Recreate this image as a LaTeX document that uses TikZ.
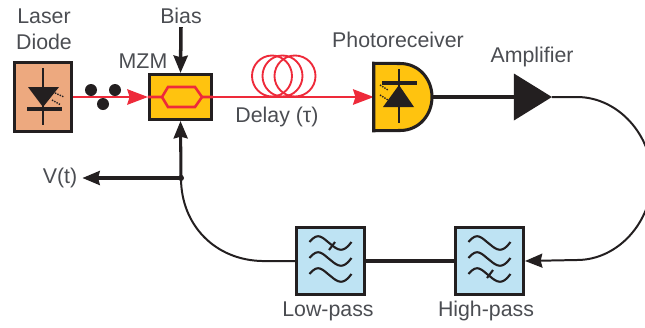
\documentclass[tikz,border=0pt]{standalone}
\usepackage{fontspec}
\setmainfont{Liberation Sans}
\usetikzlibrary{arrows.meta,shapes.geometric}
\definecolor{lasercol}{HTML}{EDA97F}
\definecolor{mzmcol}{HTML}{FFC30F}
\definecolor{filtercol}{HTML}{BEE3F3}
\definecolor{beamcol}{HTML}{EE2A3A}
\definecolor{inkcol}{HTML}{231F20}
\definecolor{lblcol}{HTML}{4B4D52}
\begin{document}
\begin{tikzpicture}[
    x=0.03cm, y=-0.03cm,
    every node/.style={font=\fontsize{18.2}{22}\selectfont, text=lblcol},
    lbl/.style={inner sep=0pt, align=center},
    block/.style={draw=inkcol, line width=2.6pt, inner sep=0pt},
    beam/.style={beamcol, line width=2.2pt},
    beamtip/.style={-{Stealth[length=0.62cm, width=0.46cm, inset=0.07cm]}},
    sig/.style={inkcol, line width=2.6pt},
    fb/.style={inkcol, line width=1.7pt},
    sigtip/.style={-{Stealth[length=0.52cm, width=0.42cm, inset=0.05cm]}},
    sym/.style={inkcol, line width=2pt},
    ray/.style={inkcol, line width=1.2pt, densely dotted},
    wave/.style={inkcol, line width=1.8pt},
    filterwaves/.pic={
        \foreach \y in {-17,-1,15}
            \draw[wave] (-21,\y-2) .. controls (-12,\y-13) and (-8,\y-6) .. (0,\y)
                .. controls (8,\y+7) and (13,\y+9) .. (21,\y-2);
    },
]
\useasboundingbox (0,0) rectangle (645,327);

% ── Textos ──
\node[lbl] (lasertxt) at (44,29) {Laser\\Diode};
\node[lbl] (biastxt) at (181,16) {Bias};
\node[lbl] (mzmtxt) at (143,61) {MZM};
\node[lbl] (delaytxt) at (277,117) {Delay (τ)};
\node[lbl] (prtxt) at (398,40) {Photoreceiver};
\node[lbl] (amptxt) at (532,57) {Amplifier};
\node[lbl] (vtxt) at (60,178) {V(t)};
\node[lbl] (lowtxt) at (328,311) {Low-pass};
\node[lbl] (hightxt) at (486,311) {High-pass};

% ── Bloques ──
\node[block, fill=lasercol, minimum width=1.71cm, minimum height=2.07cm] (laser) at (43,97) {};
\node[block, fill=mzmcol, minimum width=1.86cm, minimum height=1.35cm] (mzm) at (180.5,97) {};
\node[inner sep=0pt, minimum width=1.74cm, minimum height=2.01cm] (pr) at (403,97) {};
\node[isosceles triangle, isosceles triangle apex angle=64, isosceles triangle stretches,
      fill=inkcol, inner sep=0pt, outer sep=0pt, minimum width=1.41cm, minimum height=1.14cm] (amp) at (527,97) {};
\node[block, fill=filtercol, minimum width=2.04cm, minimum height=2.01cm] (lowp) at (330.5,261) {};
\node[block, fill=filtercol, minimum width=2.04cm, minimum height=2.01cm] (highp) at (489.5,261) {};
\node[circle, fill=inkcol, inner sep=0pt, minimum size=0.18cm] (jct) at (181,178) {};

% ── Haz óptico ──
\draw[beam, beamtip] (laser.east) -- (mzm.west);
\draw[beam, beamtip] (mzm.east) -- (pr.west);
% hexágono interno del modulador
\draw[beam] (mzm.west) -- (162,97) -- (168,87) -- (195,87) -- (202,97) -- (mzm.east);
\draw[beam] (162,97) -- (168,107) -- (195,107) -- (202,97);
% fibra de retardo
\draw[beam, line width=1.6pt] (272,76) ellipse (20 and 20.5);
\draw[beam, line width=1.6pt] (282.5,76) ellipse (20 and 20.5);
\draw[beam, line width=1.6pt] (295,76) ellipse (20.5 and 20.5);
% pulsos
\fill[inkcol] (91,90) circle (6);
\fill[inkcol] (103,104) circle (6);
\fill[inkcol] (115,90) circle (6);

% ── Diodo láser ──
\draw[sym] (43,68) -- (43,125);
\fill[inkcol] (28,87) -- (59,87) -- (43,107) -- cycle;
\draw[sym, line width=2.6pt] (27,109) -- (62,109);
\draw[ray] (55,93) -- (64,97);
\draw[ray] (52,100) -- (61,105);

% ── Fotorreceptor ──
\draw[block, fill=mzmcol] (pr.north west) -- (400,63.5)
    .. controls (419,63.5) and (432,79) .. (432,97)
    .. controls (432,115) and (419,130.5) .. (400,130.5) -- (pr.south west) -- cycle;
\draw[sym] (399,69) -- (399,123);
\draw[sym, line width=2.6pt] (382,83) -- (417,83);
\fill[inkcol] (399,85) -- (414,107) -- (383,107) -- cycle;
\draw[ray] (380,85) -- (388,90);
\draw[ray] (380,95) -- (388,100);

% ── Filtros ──
\pic at (lowp.center) {filterwaves};
\pic at (highp.center) {filterwaves};
\draw[wave] (335,242) -- (329,250);
\draw[wave] (493,270) -- (487,278);

% ── Enlaces eléctricos ──
\draw[sig, line width=3pt, sigtip] (biastxt.south) ++(0,3) -- (mzm.north);
\draw[sig] (pr.east) -- (amp.west);
\draw[fb, sigtip] (amp.apex) -- (577,97) .. controls (618,97) and (652,135) .. (652,178)
    .. controls (652,222) and (618,260) .. (577,260) -- (highp.east);
\draw[sig] (highp.west) -- (lowp.east);
\draw[fb] (lowp.west) -- ++(-33,0) .. controls (215,260) and (181,225) .. (jct.center);
\draw[sig, sigtip] (jct.center) -- (mzm.south);
\draw[sig, sigtip, shorten >=0.15cm] (jct.center) -- (vtxt.east);
\end{tikzpicture}
\end{document}
